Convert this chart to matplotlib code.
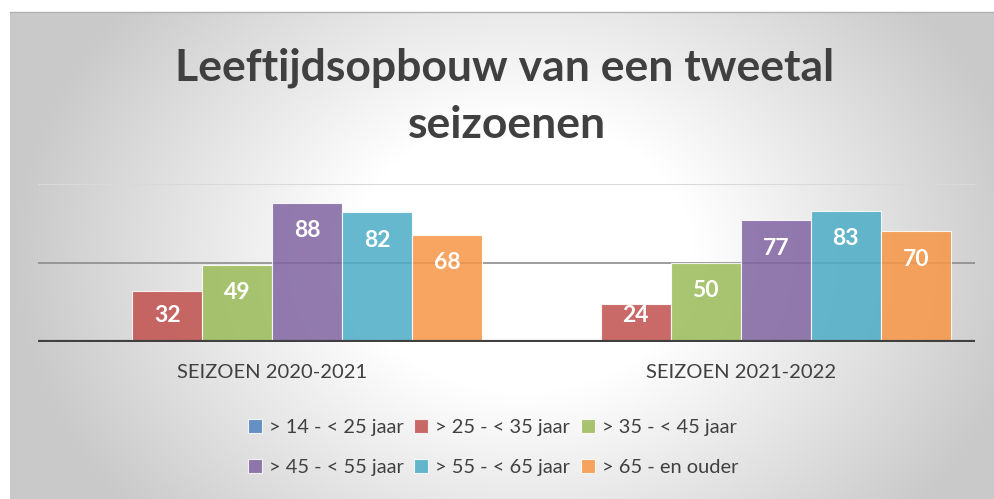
import numpy as np
import matplotlib.pyplot as plt

# data
seasons = ["SEIZOEN 2020-2021", "SEIZOEN 2021-2022"]
groups = ["> 14 - < 25 jaar", "> 25 - < 35 jaar", "> 35 - < 45 jaar",
          "> 45 - < 55 jaar", "> 55 - < 65 jaar", "> 65 - en ouder"]
values = [
    [0, 0],
    [32, 24],
    [49, 50],
    [88, 77],
    [82, 83],
    [68, 70],
]
colors = ["#4F81BD", "#C0504D", "#9BBB59", "#8064A2", "#4BACC6", "#F79646"]

plt.rcParams['font.family'] = ['Lato', 'DejaVu Sans']
text_col = '#404040'

fig = plt.figure(figsize=(9.94, 4.99), dpi=100)

# --- background: radial grey gradient ---
bg = fig.add_axes([10 / 994, 0, 984 / 994, 487 / 499])
H, W = 487, 984
yy, xx = np.mgrid[0:H, 0:W]
u = (xx - W * 0.52) / (W * 0.5)
v = (yy - H * 0.5) / (H * 0.8)
d = np.sqrt(u ** 2 + v ** 2)
shade = 1 - 0.21 * np.clip((d - 0.35) / 0.68, 0, 1)
bg.imshow(np.dstack([shade] * 3), aspect='auto', extent=[0, 1, 0, 1])
bg.set_xlim(0, 1)
bg.set_ylim(0, 1)
bg.axis('off')

# --- main plot ---
ax = fig.add_axes([38 / 994, 157 / 499, 937 / 994, 158 / 499])
ax.patch.set_alpha(0)

x = np.arange(len(seasons))
n = len(groups)
bw = 70 / 468.5
handles = []
for i, (g, vals, c) in enumerate(zip(groups, values, colors)):
    pos = x + (i - (n - 1) / 2) * bw
    bars = ax.bar(pos, vals, width=bw, color=c, alpha=0.85,
                  edgecolor='white', linewidth=0.8, label=g, zorder=3)
    handles.append(bars)
    for xp, val in zip(pos, vals):
        if val <= 0:
            continue
        ypos = max(val - 17.7, 16.5)
        ax.text(xp, ypos, str(val), ha='center', va='center', color='white',
                fontsize=16.5, fontweight='bold', zorder=4)

ax.axhline(100, color='#d9d9d9', lw=1.5, zorder=1)
ax.axhline(50, color='#8c8c8c', lw=1.2, zorder=1)
ax.axhline(0, color='#404040', lw=3, zorder=5)

ax.set_xlim(-0.5, 1.5)
ax.set_ylim(0, 100)
ax.set_yticks([])
ax.set_xticks(x)
ax.set_xticklabels(seasons, fontsize=14.5, color=text_col)
ax.tick_params(axis='x', length=0, pad=16)
for s in ax.spines.values():
    s.set_visible(False)

# title
fig.text(505 / 994, 1 - 68 / 499, "Leeftijdsopbouw van een tweetal",
         ha='center', va='center', fontsize=32, fontweight='bold', color=text_col)
fig.text(507 / 994, 1 - 125 / 499, "seizoenen",
         ha='center', va='center', fontsize=32, fontweight='bold', color=text_col)

# legend, row-major order
order = [0, 3, 1, 4, 2, 5]
leg = fig.legend([handles[k] for k in order], [groups[k] for k in order],
                 ncol=3, loc='center', bbox_to_anchor=(493 / 994, 1 - 447.5 / 499),
                 frameon=False, fontsize=14.4, handlelength=0.68, handleheight=0.68,
                 handletextpad=0.35, columnspacing=0.55, labelspacing=1.15)
for t in leg.get_texts():
    t.set_color(text_col)

# top border line of chart area
fig.add_artist(plt.Line2D([10 / 994, 1], [1 - 12 / 499, 1 - 12 / 499],
                          color='#b0b0b0', lw=1, transform=fig.transFigure))

fig.savefig("out.png", dpi=100)
